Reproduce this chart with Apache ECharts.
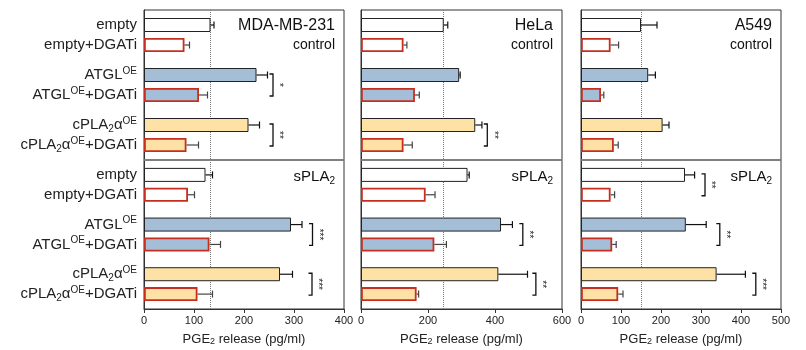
<!DOCTYPE html>
<html>
<head>
<meta charset="utf-8">
<script src="https://cdn.jsdelivr.net/npm/echarts@6/dist/echarts.min.js"></script>
<style>
  html, body { margin: 0; padding: 0; background: #fff; }
  #chart { width: 806px; height: 350px; }
</style>
</head>
<body>
<div id="chart"></div>
<script>
// row labels (rich text) and their slots on the 15-slot category axis
const rowNames = ['empty', 'empty+DGATi', 'ATGL{sup|OE}', 'ATGL{sup|OE}+DGATi',
  'cPLA{sub|2}α{sup|OE}', 'cPLA{sub|2}α{sup|OE}+DGATi'];
const rowSlots = [1, 3, 6, 8, 11, 13];
const slotCount = 15;

// PGE2 release (pg/ml), mean and error
const mdaCtrl = [133, 81, 225, 110, 209, 85];
const mdaCtrlErr = [7, 10, 22, 17, 22, 24];
const mdaSpla = [123, 88, 294, 131, 272, 107];
const mdaSplaErr = [14, 13, 22, 22, 25, 30];

const helaCtrl = [247, 127, 293, 161, 341, 127];
const helaCtrlErr = [12, 10, 3, 13, 20, 26];
const helaSpla = [318, 193, 418, 219, 410, 166];
const helaSplaErr = [5, 28, 34, 36, 87, 6];

const a549Ctrl = [150, 74, 168, 50, 204, 82];
const a549CtrlErr = [40, 20, 18, 7, 16, 11];
const a549Spla = [260, 74, 262, 78, 339, 93];
const a549SplaErr = [24, 10, 51, 10, 72, 12];

// significance brackets: [x position, first row], with stars
const mdaCtrlSig = [[258, 2], [258, 4]];
const mdaCtrlStars = ['*', '**'];
const mdaSplaSig = [[337, 2], [336, 4]];
const mdaSplaStars = ['***', '***'];
const helaCtrlSig = [[377, 4]];
const helaCtrlStars = ['**'];
const helaSplaSig = [[483, 2], [522, 4]];
const helaSplaStars = ['**', '**'];
const a549CtrlSig = [];
const a549CtrlStars = [];
const a549SplaSig = [[310, 0], [347, 2], [437, 4]];
const a549SplaStars = ['**', '**', '***'];

const xMax = [400, 600, 500];
const xInterval = [100, 200, 100];

const fills = ['#ffffff', '#ffffff', '#a4bed7', '#a4bed7', '#fee2a5', '#fee2a5'];
const red = '#c62f20';
const dark = '#222';
const font = '"Liberation Sans", Arial, sans-serif';

const panels = [
  { name: 'MDA-MB-231', left: 144, width: 200,
    halves: [[mdaCtrl, mdaCtrlErr, mdaCtrlSig, mdaCtrlStars], [mdaSpla, mdaSplaErr, mdaSplaSig, mdaSplaStars]] },
  { name: 'HeLa', left: 361, width: 201,
    halves: [[helaCtrl, helaCtrlErr, helaCtrlSig, helaCtrlStars], [helaSpla, helaSplaErr, helaSplaSig, helaSplaStars]] },
  { name: 'A549', left: 581, width: 200,
    halves: [[a549Ctrl, a549CtrlErr, a549CtrlSig, a549CtrlStars], [a549Spla, a549SplaErr, a549SplaSig, a549SplaStars]] }
];

const halfTop = [10, 160];
const halfHeight = [150, 149];

const grid = [], xAxis = [], yAxis = [], series = [], graphic = [];
const slotNames = Array.from({ length: slotCount }, (_, i) => String(i));

panels.forEach((p, pi) => {
  const ref = p.halves[0][0][0]; // empty control -> dotted reference line
  p.halves.forEach((h, hi) => {
    const [vals, errs, sig, stars] = h;
    const g = grid.length;
    grid.push({ left: p.left, width: p.width, top: halfTop[hi], height: halfHeight[hi],
      show: true, borderColor: '#333', borderWidth: 1, backgroundColor: 'transparent' });
    const bottom = hi === 1;
    xAxis.push({
      gridIndex: g, type: 'value', min: 0, max: xMax[pi], interval: xInterval[pi],
      splitLine: { show: false },
      axisLine: { show: bottom, lineStyle: { color: '#333' } },
      axisTick: { show: bottom, length: 4, lineStyle: { color: '#333' } },
      axisLabel: { show: bottom, fontSize: 11, color: '#222', fontFamily: font, margin: 6 },
      name: bottom ? 'PGE{sub|2} release (pg/ml)' : '',
      nameLocation: 'middle', nameGap: 24,
      nameTextStyle: { fontSize: 13, color: '#222', fontFamily: font,
        rich: { sub: { fontSize: 9, lineHeight: 6, verticalAlign: 'bottom', fontFamily: font, color: '#222' } } }
    });
    yAxis.push({
      gridIndex: g, type: 'category', inverse: true, data: slotNames,
      axisLine: { show: true, lineStyle: { color: '#333' } },
      axisTick: { show: false },
      axisLabel: {
        show: pi === 0, interval: 0, margin: 7, fontSize: 15, color: '#222', fontFamily: font,
        lineHeight: 18,
        formatter: (v, idx) => {
          const r = rowSlots.indexOf(idx);
          return r >= 0 ? rowNames[r] : '';
        },
        rich: {
          sup: { fontSize: 10, lineHeight: 8, verticalAlign: 'top', fontFamily: font, color: '#222' },
          sub: { fontSize: 10, lineHeight: 6, verticalAlign: 'bottom', fontFamily: font, color: '#222' }
        }
      }
    });

    const barData = slotNames.map(() => '-');
    rowSlots.forEach((s, i) => {
      const dg = i % 2 === 1;
      barData[s] = { value: vals[i], itemStyle: { color: fills[i], borderColor: dg ? red : dark, borderWidth: dg ? 1.8 : 1 } };
    });
    series.push({
      type: 'bar', xAxisIndex: g, yAxisIndex: g, data: barData, barWidth: 14, z: 3,
      silent: true, animation: false,
      markLine: {
        z: 1, silent: true, symbol: 'none', label: { show: false },
        lineStyle: { type: 'dotted', color: '#777', width: 1 },
        data: [{ xAxis: ref }]
      }
    });

    series.push({
      type: 'custom', xAxisIndex: g, yAxisIndex: g, z: 4, silent: true, animation: false,
      data: vals.map((v, i) => [v, rowSlots[i], errs[i], i]),
      encode: { x: 0, y: 1 },
      renderItem: (params, api) => {
        const v = api.value(0), s = api.value(1), e = api.value(2), i = api.value(3);
        const a = api.coord([v, s]), b = api.coord([v + e, s]);
        const c = i % 2 === 1 ? '#444' : '#111';
        return { type: 'group', children: [
          { type: 'line', shape: { x1: a[0], y1: a[1], x2: b[0], y2: b[1] }, style: { stroke: c, lineWidth: 1.2 } },
          { type: 'line', shape: { x1: b[0], y1: b[1] - 3.5, x2: b[0], y2: b[1] + 3.5 }, style: { stroke: c, lineWidth: 1.2 } }
        ] };
      }
    });

    series.push({
      type: 'custom', xAxisIndex: g, yAxisIndex: g, z: 4, silent: true, animation: false,
      data: sig.map(s => [s[0], rowSlots[s[1]], rowSlots[s[1] + 1]]),
      encode: { x: 0, y: 1 },
      renderItem: (params, api) => {
        const x = api.value(0);
        const t = api.coord([x, api.value(1)]), b = api.coord([x, api.value(2)]);
        const ym = (t[1] + b[1]) / 2;
        return { type: 'group', children: [
          { type: 'polyline', shape: { points: [[t[0] - 3.5, t[1] - 1], [t[0], t[1] - 1], [t[0], b[1] + 1], [t[0] - 3.5, b[1] + 1]] },
            style: { stroke: '#111', lineWidth: 1.3, fill: null } },
          { type: 'text', x: t[0] + 6, y: ym, rotation: -Math.PI / 2,
            style: { text: stars[params.dataIndex], fontSize: 10, fontFamily: font, fill: '#222',
              textAlign: 'center', textVerticalAlign: 'middle' } }
        ] };
      }
    });
  });

  const right = p.left + p.width - 9;
  graphic.push({ type: 'text', x: right, y: 26, style: { text: p.name, fontSize: 16, fontFamily: font,
    fill: '#111', textAlign: 'right', textVerticalAlign: 'middle' } });
  graphic.push({ type: 'text', x: right, y: 45, style: { text: 'control', fontSize: 14, fontFamily: font,
    fill: '#111', textAlign: 'right', textVerticalAlign: 'middle' } });
  graphic.push({ type: 'text', x: right, y: 177, style: { text: 'sPLA{sub|2}', fontSize: 15, fontFamily: font,
    fill: '#111', textAlign: 'right', textVerticalAlign: 'middle', lineHeight: 18,
    rich: { sub: { fontSize: 10, lineHeight: 6, verticalAlign: 'bottom', fontFamily: font, fill: '#111' } } } });
  // divider between control and sPLA2 halves
  graphic.push({ type: 'rect', z: 10, shape: { x: p.left, y: 159.2, width: p.width, height: 1.6 },
    style: { fill: '#888' } });
});

const chart = echarts.init(document.getElementById('chart'), null, { renderer: 'canvas' });
chart.setOption({
  animation: false,
  grid, xAxis, yAxis, series, graphic
});
</script>
</body>
</html>
